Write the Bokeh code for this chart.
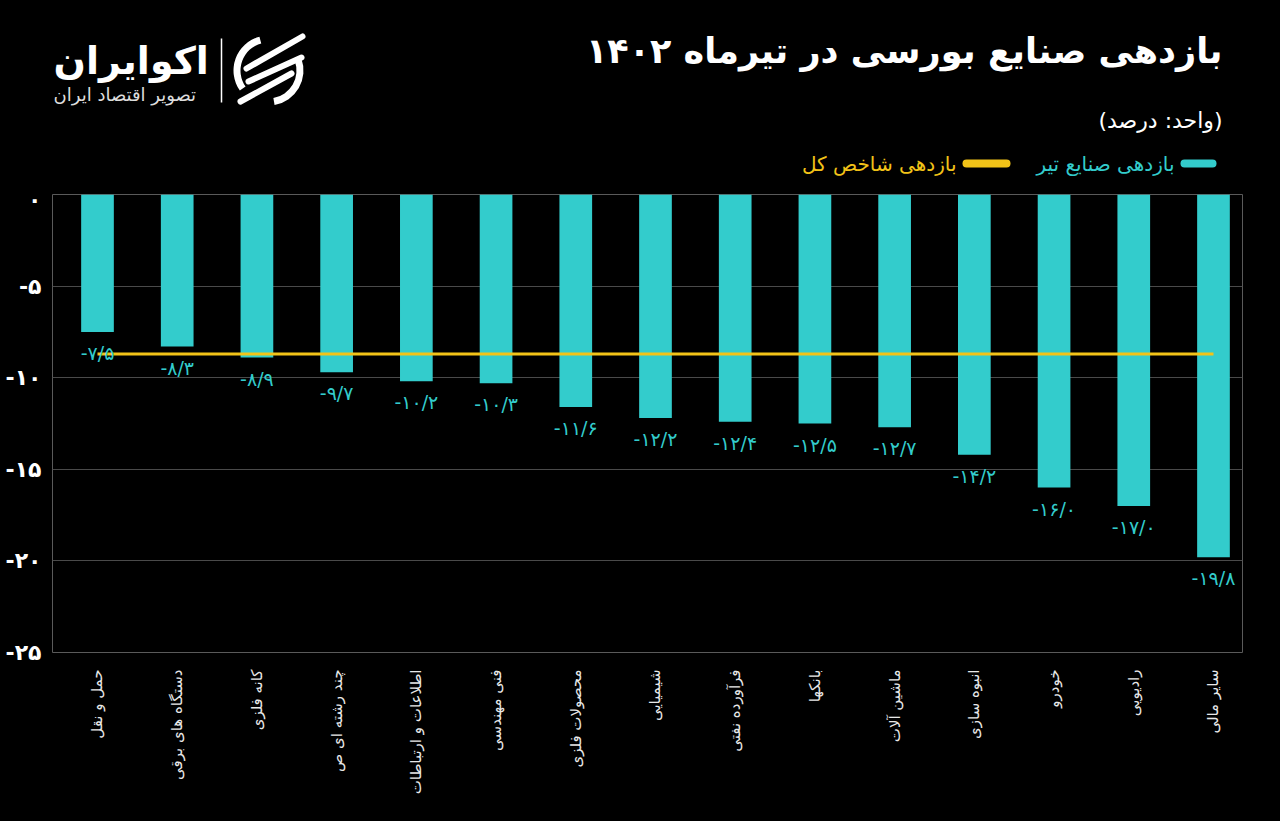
import numpy as np
from bokeh.plotting import figure
from bokeh.layouts import column
from bokeh.models import Range1d, FixedTicker, ColumnDataSource
from bokeh.embed import file_html
from bokeh.resources import INLINE
from bokeh.core.properties import value

# ---------------- data ----------------
categories = [
    "حمل و نقل", "دستگاه های برقی", "کانه فلزی", "چند رشته ای ص",
    "اطلاعات و ارتباطات", "فنی مهندسی", "محصولات فلزی", "شیمیایی",
    "فرآورده نفتی", "بانکها", "ماشین آلات", "انبوه سازی", "خودرو",
    "رادیویی", "سایر مالی",
]
returns = [-7.5, -8.3, -8.9, -9.7, -10.2, -10.3, -11.6, -12.2,
           -12.4, -12.5, -12.7, -14.2, -16.0, -17.0, -19.8]
index_return = -8.7
y_ticks = [0, -5, -10, -15, -20, -25]

title_text = "بازدهی صنایع بورسی در تیرماه ۱۴۰۲"
unit_text = "(واحد: درصد)"
legend_bars = "بازدهی صنایع تیر"
legend_index = "بازدهی شاخص کل"
brand = "اکوایران"
brand_sub = "تصویر اقتصاد ایران"

FA = str.maketrans("0123456789.", "۰۱۲۳۴۵۶۷۸۹/")


def fa(v, d=1):
    return (f"{v:.{d}f}").translate(FA)


CYAN = "#33CCCC"
YELLOW = "#F2C318"
FONT = "DejaVu Sans"
BG = "#000000"
BGSTYLE = {"background-color": BG}

W, H = 1280, 821
HEAD = 186                      # header strip height (page px)
FL, FR, FT, FB = 52, 1242, 194, 652   # chart frame in page px

# ---------------- header (title, unit, legend, logo) ----------------
# its frame spans the same columns as the chart frame, in page pixels
hd = figure(width=W, height=HEAD, output_backend="svg", toolbar_location=None,
            x_range=Range1d(FL, FR), y_range=Range1d(HEAD, 0),
            background_fill_color=BG, border_fill_color=BG,
            min_border_left=FL, min_border_right=W - FR,
            min_border_top=0, min_border_bottom=0, styles=BGSTYLE)
hd.outline_line_color = None
hd.axis.visible = False
hd.grid.visible = False


def htext(X, Y, text, color, size, align="right", bold=False):
    hd.text(x=[X], y=[Y], text=[text], text_align=align, text_baseline="middle",
            text_color=color, text_font=value(FONT),
            text_font_style="bold" if bold else "normal", text_font_size=size)


htext(1222, 50, title_text, "#ffffff", "35px", bold=True)
htext(1222, 120, unit_text, "#ffffff", "22px")
htext(1174, 163, legend_bars, CYAN, "20px")
htext(956, 163, legend_index, YELLOW, "20px")
# legend swatches
hd.line(x=[1184, 1212], y=[163, 163], line_color=CYAN, line_width=8, line_cap="round")
hd.line(x=[966, 1006], y=[163, 163], line_color=YELLOW, line_width=8, line_cap="round")

# logo
htext(53, 60, brand, "#ffffff", "38px", align="left", bold=True)
htext(53, 94, brand_sub, "#dddddd", "18px", align="left")
hd.line(x=[221, 221], y=[38, 102], line_color="#ffffff", line_width=1.5)
hd.annular_wedge(x=[268], y=[70], inner_radius=28, outer_radius=35,
                 start_angle=np.deg2rad(105), end_angle=np.deg2rad(215),
                 fill_color="#ffffff", line_color=None)
hd.annular_wedge(x=[268], y=[70], inner_radius=28, outer_radius=35,
                 start_angle=np.deg2rad(280), end_angle=np.deg2rad(20),
                 fill_color="#ffffff", line_color=None)
hd.multi_line(xs=[[246, 302], [248, 301], [240, 291]],
              ys=[[68, 36], [81, 57], [101, 73]],
              line_color="#ffffff", line_width=6, line_cap="round")

# ---------------- chart ----------------
X0, X1 = -0.5645, 14.364
idx = list(range(len(categories)))
src = ColumnDataSource(dict(
    x=idx, top=returns, lab=[fa(v) for v in returns],
    idxv=[index_return] * len(idx),
))

p = figure(
    width=W, height=H - HEAD, output_backend="svg", toolbar_location=None,
    x_range=Range1d(X0, X1), y_range=Range1d(-25, 0),
    background_fill_color=BG, border_fill_color=BG,
    min_border_left=FL, min_border_right=W - FR, min_border_top=FT - HEAD,
    min_border_bottom=H - FB, styles=BGSTYLE,
)
p.outline_line_color = "#5a5a5a"
p.outline_line_width = 1

p.vbar(x="x", top="top", bottom=0, width=0.41, source=src,
       fill_color=CYAN, line_color=None)
p.line(x="x", y="idxv", source=src, line_color=YELLOW, line_width=3)
p.text(x="x", y="top", text="lab", source=src, text_align="center",
       text_baseline="top", y_offset=10, text_color=CYAN,
       text_font_size="19px", text_font=value(FONT))

p.xgrid.visible = False
p.ygrid.grid_line_color = "#4a4a4a"
p.ygrid.grid_line_width = 1
p.yaxis.ticker = FixedTicker(ticks=y_ticks)
p.yaxis.major_label_overrides = {t: ("۰" if t == 0 else fa(t, 0)) for t in y_ticks}
p.yaxis.axis_line_color = None
p.yaxis.major_tick_line_color = None
p.yaxis.minor_tick_line_color = None
p.yaxis.major_label_text_color = "#ffffff"
p.yaxis.major_label_text_font = FONT
p.yaxis.major_label_text_font_style = "bold"
p.yaxis.major_label_text_font_size = "22px"
p.yaxis.major_label_standoff = 5

p.xaxis.ticker = FixedTicker(ticks=idx)
p.xaxis.major_label_overrides = {i: c for i, c in zip(idx, categories)}
p.xaxis.major_label_orientation = np.pi / 2
p.xaxis.axis_line_color = None
p.xaxis.major_tick_line_color = None
p.xaxis.minor_tick_line_color = None
p.xaxis.major_label_text_color = "#e8e8e8"
p.xaxis.major_label_text_font = FONT
p.xaxis.major_label_text_font_size = "15px"
p.xaxis.major_label_standoff = 11

layout = column(hd, p, spacing=0, styles=BGSTYLE)
html = file_html(layout, INLINE, title="chart")
html = html.replace("<body>", '<body style="background:#000000;">', 1)
open("out.html", "w").write(html)
